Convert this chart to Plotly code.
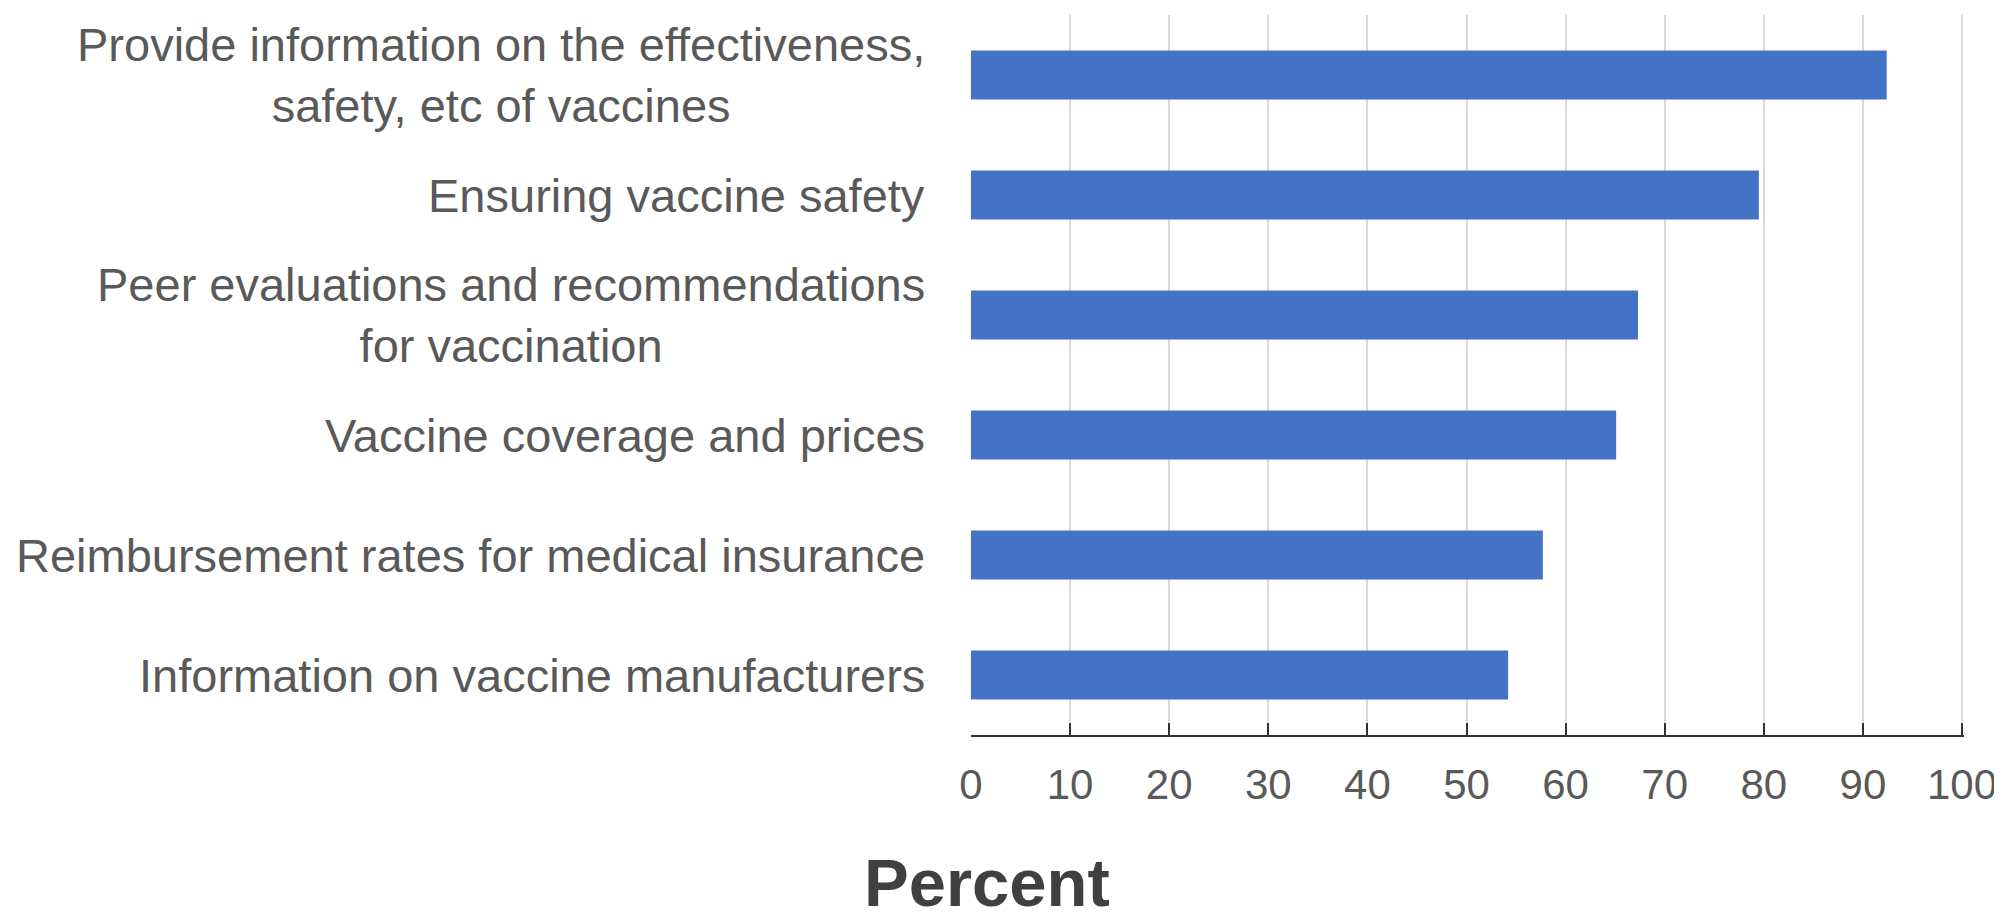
import plotly.graph_objects as go

categories = [
    "Provide information on the effectiveness,<br>safety, etc of vaccines",
    "Ensuring vaccine safety",
    "Peer evaluations and recommendations<br>for vaccination",
    "Vaccine coverage and prices",
    "Reimbursement rates for medical insurance",
    "Information on vaccine manufacturers",
]
values = [92.4, 79.5, 67.3, 65.1, 57.7, 54.2]
x_ticks = list(range(0, 101, 10))
x_title = "Percent"

FONT = "Liberation Sans"
LABEL_COLOR = "#595959"

fig = go.Figure()
fig.add_trace(go.Bar(
    x=values,
    y=categories,
    orientation="h",
    marker=dict(color="#4472C4", line=dict(width=0)),
    hoverinfo="x+y",
))

annotations = []
for cat in categories:
    annotations.append(dict(
        x=0, xref="paper", y=cat, yref="y",
        text=cat, showarrow=False,
        xanchor="right", yanchor="middle", align="center",
        xshift=-44,
        font=dict(family=FONT, size=47, color=LABEL_COLOR),
    ))

annotations.append(dict(
    x=0.016, xref="paper", y=-0.205, yref="paper",
    text="<b>" + x_title + "</b>", showarrow=False,
    xanchor="center", yanchor="middle",
    font=dict(family=FONT, size=67, color="#404040"),
))

fig.update_layout(
    width=2002, height=916,
    margin=dict(l=963, r=46, t=7, b=189),
    paper_bgcolor="white", plot_bgcolor="white",
    bargap=0.59,
    showlegend=False,
    annotations=annotations,
    font=dict(family=FONT, color=LABEL_COLOR),
)
fig.update_xaxes(
    range=[0, 100.2],
    tickvals=x_ticks,
    ticktext=[str(t) for t in x_ticks],
    showgrid=True, gridcolor="#d9d9d9", gridwidth=2,
    zeroline=False,
    showline=True, linecolor="#333333", linewidth=2,
    ticks="inside", ticklen=12, tickwidth=2, tickcolor="#333333",
    tickfont=dict(family=FONT, size=42, color=LABEL_COLOR),
    ticklabelstandoff=12,
    ticklabeloverflow="allow",
    fixedrange=True,
)
fig.update_yaxes(
    categoryorder="array", categoryarray=categories,
    autorange="reversed",
    showticklabels=False, showgrid=False, zeroline=False,
    showline=False, ticks="",
    fixedrange=True,
)

fig.write_html("out.html")
